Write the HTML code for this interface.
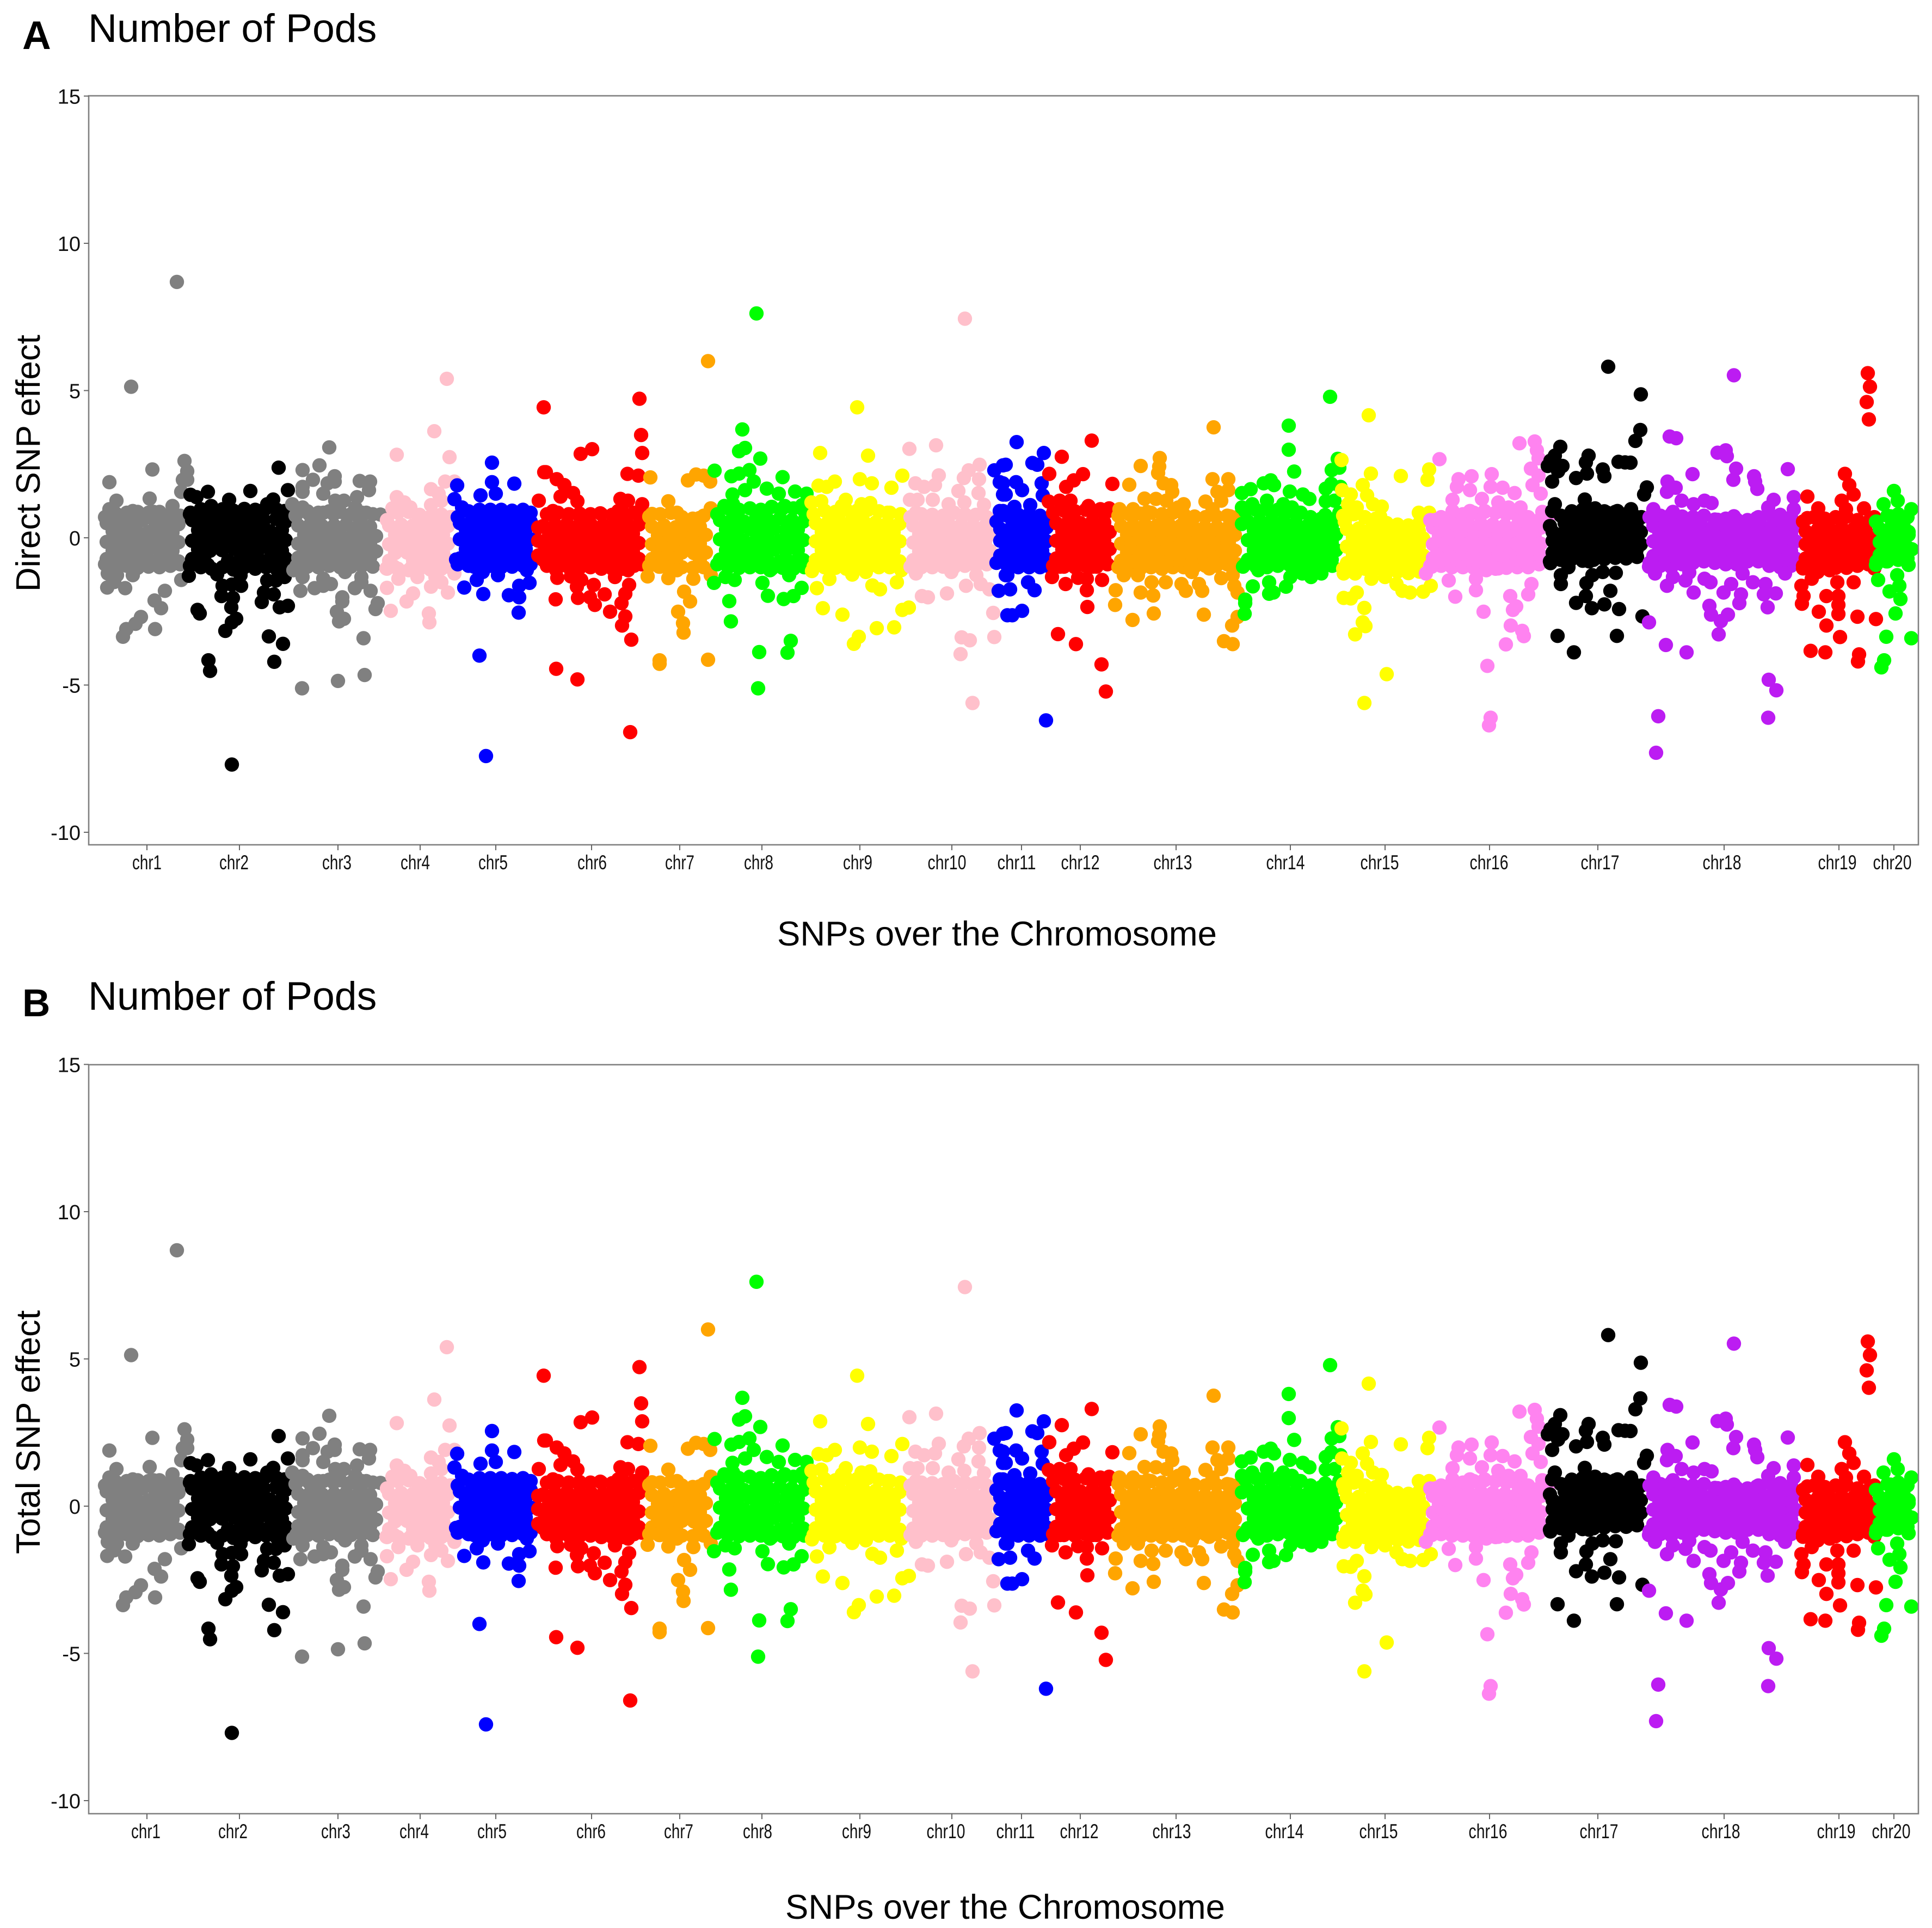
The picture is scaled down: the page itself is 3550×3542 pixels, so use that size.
<!DOCTYPE html>
<html lang="en">
<head>
<meta charset="utf-8">
<title>Number of Pods - SNP effects</title>
<style>
html,body{margin:0;padding:0;background:#fff;}
svg{display:block;font-family:"Liberation Sans",sans-serif;}
</style>
</head>
<body>
<svg id="chart" xmlns="http://www.w3.org/2000/svg" width="3550" height="3542" viewBox="0 0 3550 3542">
<rect x="0" y="0" width="3550" height="3542" fill="#fff"/>
<text x="41" y="90" font-size="73" font-weight="bold" fill="#000">A</text>
<text x="162" y="77" font-size="73.4" fill="#000">Number of Pods</text>
<text x="1832" y="1737" font-size="63" text-anchor="middle" textLength="808" lengthAdjust="spacingAndGlyphs" fill="#000">SNPs over the Chromosome</text>
<text transform="translate(73,851) rotate(-90)" font-size="62" text-anchor="middle" textLength="472" lengthAdjust="spacingAndGlyphs" fill="#000">Direct SNP effect</text>
<text x="41" y="1867" font-size="71" font-weight="bold" fill="#000">B</text>
<text x="162" y="1855" font-size="73.4" fill="#000">Number of Pods</text>
<text x="1847" y="3525" font-size="63" text-anchor="middle" textLength="808" lengthAdjust="spacingAndGlyphs" fill="#000">SNPs over the Chromosome</text>
<text transform="translate(73,2631) rotate(-90)" font-size="62" text-anchor="middle" textLength="448" lengthAdjust="spacingAndGlyphs" fill="#000">Total SNP effect</text>
</svg>
<script>
const chromosomes=['chr1','chr2','chr3','chr4','chr5','chr6','chr7','chr8','chr9','chr10','chr11','chr12','chr13','chr14','chr15','chr16','chr17','chr18','chr19','chr20'];
const chromosomeColors=['#808080','#000000','#808080','#FFC0CB','#0000FF','#FF0000','#FFA500','#00FF00','#FFFF00','#FFC0CB','#0000FF','#FF0000','#FFA500','#00FF00','#FFFF00','#FF83F0','#000000','#BC1CF2','#FF0000','#00FF00'];
const chromosomeTicks=[107,277,458,609,748,924,1086,1237,1417,1586,1714,1822,1998,2208,2382,2574,2773,3005,3216,3317];
const chromosomeLabelAt=[107,267,456,600,743,925,1086,1231,1413,1577,1705,1822,1992,2199,2372,2573,2777,3001,3213,3314];
const effectTicks=[15,10,5,0,-5,-10];

/* Scattered SNPs: [genome position, effect] */
const chr1Snps=[[162,8.69],[78,5.13],[176,2.61],[181,2.26],[173,1.97],[181,1.97],[170,1.56],[117,2.32],[38,1.89],[51,1.26],[112,1.33],[154,1.08],[38,.97],[81,.91],[119,.88],[35,-1.21],[81,-1.27],[34,-1.69],[67,-1.71],[170,-1.43],[140,-1.8],[121,-2.13],[133,-2.39],[96,-2.69],[86,-2.92],[69,-3.1],[63,-3.36],[122,-3.1],[47,-1.5],[52,-1.27]];
const chr2Snps=[[263,-7.7],[220,-4.16],[223,-4.52],[341,-4.21],[331,-3.35],[357,-3.6],[251,-3.16],[263,-2.87],[271,-2.75],[200,-2.45],[204,-2.57],[262,-2.36],[265,-2.04],[244,-1.98],[246,-1.63],[263,-1.59],[280,-1.63],[318,-2.18],[351,-2.36],[366,-2.31],[340,-1.92],[322,-1.86],[184,-1.29],[236,-1.24],[219,-.92],[279,-1.27],[328,-1.45],[344,-1.45],[360,-1.33],[349,2.38],[297,1.59],[219,1.56],[366,1.62],[187,1.46],[198,1.38],[258,1.29],[339,1.3],[328,1.14],[225,1.08],[206,.97],[271,.85],[187,.85],[246,.97],[312,.91],[293,.88],[360,.91]];
const chr3Snps=[[442,3.07],[424,2.46],[393,2.3],[452,2.09],[452,1.91],[412,1.97],[393,1.73],[393,1.56],[498,1.93],[517,1.91],[515,1.62],[439,1.85],[431,1.5],[493,1.38],[469,1.26],[453,1.26],[374,1.14],[393,1.03],[431,.85],[510,.85],[536,.79],[490,1.03],[380,.75],[405,.8],[420,.75],[450,.8],[475,.75],[500,.7],[376,-1.1],[393,-1.33],[431,-1.39],[445,-1.57],[431,-1.63],[415,-1.71],[389,-1.8],[471,-1.16],[501,-1.33],[501,-1.51],[489,-1.71],[518,-1.8],[466,-2.02],[466,-2.16],[531,-2.22],[527,-2.42],[456,-2.51],[469,-2.75],[460,-2.84],[505,-3.41],[507,-4.66],[458,-4.86],[392,-5.11]];
const chr4Snps=[[658,5.4],[635,3.62],[566,2.82],[663,2.74],[655,1.91],[672,1.91],[629,1.65],[643,1.5],[629,1.11],[648,1.26],[648,.79],[566,1.38],[580,1.2],[558,1.0],[591,1.03],[607,.67],[669,.7],[547,-1.04],[561,-.98],[594,-.98],[569,-1.39],[604,-1.33],[637,-.98],[637,-1.33],[672,-1.21],[629,-1.66],[648,-1.51],[660,-1.86],[548,-1.7],[596,-1.89],[584,-2.16],[555,-2.48],[625,-2.57],[626,-2.87]];
const chr5Snps=[[741,2.55],[677,1.78],[741,1.89],[782,1.84],[720,1.44],[748,1.5],[672,1.31],[686,1.03],[675,-.74],[708,-.98],[724,-1.16],[713,-1.43],[752,-1.27],[690,-1.69],[725,-1.91],[805,-1.1],[810,-1.53],[791,-1.63],[772,-1.95],[791,-2.02],[790,-2.54],[718,-4.0],[730,-7.41]];
const chr6Snps=[[836,4.43],[837,2.23],[827,1.26],[1012,4.72],[1015,3.49],[1017,2.88],[925,3.01],[904,2.85],[840,2.23],[860,1.99],[874,1.79],[890,1.52],[898,1.24],[867,1.4],[990,2.17],[1010,2.11],[977,1.32],[991,1.26],[1017,1.14],[940,.83],[902,.73],[853,.91],[973,.91],[859,-1.1],[861,-1.36],[886,-1.31],[905,-1.43],[897,-1.66],[928,-1.6],[948,-1.92],[899,-2.04],[921,-2.02],[930,-2.28],[858,-2.09],[958,-2.51],[993,-1.6],[986,-1.9],[979,-2.22],[986,-2.67],[980,-2.98],[997,-3.46],[859,-4.45],[898,-4.81],[995,-6.6],[967,-1.33],[991,-1.1]];
const chr7Snps=[[1138,6.0],[1032,2.05],[1101,1.95],[1116,2.15],[1130,2.11],[1142,1.91],[1065,1.24],[1081,.85],[1035,.81],[1143,1.0],[1122,.67],[1027,-1.31],[1065,-1.37],[1081,-1.1],[1111,-1.39],[1111,-1.04],[1143,-1.27],[1048,-.98],[1094,-1.83],[1105,-2.16],[1083,-2.51],[1092,-2.9],[1093,-3.22],[1049,-4.16],[1049,-4.28],[1138,-4.14]];
const chr8Snps=[[1227,7.62],[1201,3.68],[1206,3.05],[1195,2.94],[1234,2.69],[1150,2.28],[1181,2.09],[1195,2.18],[1214,2.3],[1275,2.06],[1222,1.91],[1246,1.67],[1298,1.57],[1319,1.5],[1183,1.47],[1206,1.62],[1268,1.5],[1279,1.08],[1311,1.11],[1168,1.08],[1184,1.14],[1176,-.98],[1170,-1.33],[1187,-1.43],[1149,-1.53],[1238,-1.53],[1252,-1.1],[1287,-1.27],[1310,-1.7],[1295,-1.98],[1277,-2.08],[1248,-1.97],[1177,-2.15],[1180,-2.84],[1290,-3.5],[1284,-3.9],[1232,-3.88],[1230,-5.11]];
const chr9Snps=[[1412,4.43],[1344,2.88],[1432,2.79],[1341,1.77],[1356,1.73],[1371,1.91],[1417,1.99],[1439,1.85],[1475,1.7],[1495,2.11],[1328,1.2],[1346,1.24],[1391,1.29],[1384,1.08],[1420,1.14],[1436,1.18],[1468,.85],[1368,.79],[1501,.67],[1329,-1.13],[1361,-1.4],[1338,-1.71],[1403,-1.25],[1428,-1.16],[1485,-1.51],[1493,-1.1],[1440,-1.62],[1454,-1.75],[1349,-2.39],[1385,-2.61],[1507,-2.37],[1495,-2.45],[1448,-3.07],[1480,-3.04],[1415,-3.36],[1406,-3.6]];
const chr10Snps=[[1610,7.44],[1508,3.02],[1557,3.14],[1637,2.48],[1617,2.29],[1608,2.03],[1636,1.99],[1562,2.12],[1555,1.79],[1519,1.85],[1535,1.73],[1598,1.59],[1635,1.52],[1509,1.29],[1523,1.29],[1551,1.29],[1580,1.14],[1645,1.12],[1609,1.2],[1520,.85],[1520,-1.21],[1585,-1.16],[1612,-.92],[1631,-1.27],[1639,-1.57],[1612,-1.63],[1655,-1.75],[1531,-1.98],[1542,-2.02],[1577,-1.89],[1662,-2.55],[1664,-3.37],[1604,-3.38],[1619,-3.48],[1602,-3.95],[1624,-5.61]];
const chr11Snps=[[1664,2.29],[1680,2.46],[1674,1.89],[1680,1.47],[1674,.91],[1672,-1.8],[1685,-1.27],[1688,-2.63],[1705,3.25],[1755,2.88],[1685,2.48],[1734,2.54],[1743,2.48],[1704,1.89],[1680,1.85],[1751,1.85],[1715,1.62],[1685,1.47],[1753,1.44],[1701,1.05],[1730,1.11],[1680,.91],[1712,.67],[1688,-1.27],[1726,-1.51],[1693,-1.75],[1738,-1.78],[1715,-2.48],[1697,-2.63],[1759,-6.2]];
const chr12Snps=[[1843,3.3],[1788,2.75],[1765,2.17],[1827,2.16],[1810,1.95],[1796,1.73],[1881,1.83],[1764,1.23],[1784,1.26],[1837,1.08],[1859,.97],[1875,1.0],[1804,1.26],[1807,.85],[1770,-1.33],[1795,-1.57],[1818,-1.36],[1834,-1.39],[1834,-1.78],[1862,-1.43],[1835,-2.35],[1781,-3.27],[1814,-3.61],[1861,-4.3],[1869,-5.22],[1785,-.98],[1845,-.98]];
const chr13Snps=[[2067,3.75],[1968,2.71],[1933,2.44],[1967,2.42],[1965,2.2],[1912,1.8],[1975,1.85],[1989,1.79],[2065,1.99],[2094,1.99],[1991,1.56],[1940,1.33],[1961,1.32],[1980,1.26],[2012,1.14],[2074,1.56],[2094,1.62],[2052,1.23],[2081,1.26],[2065,.97],[1894,.97],[1919,.97],[1945,.88],[2002,1.03],[2024,.61],[2097,.73],[1902,-1.27],[1928,-1.27],[1953,-1.51],[1979,-1.51],[2027,-1.16],[2059,-1.04],[1887,-1.78],[2008,-1.57],[2040,-1.57],[2046,-1.8],[2016,-1.8],[1933,-1.86],[1956,-1.96],[2081,-1.37],[2102,-1.27],[2105,-1.63],[2111,-1.86],[1886,-2.28],[1957,-2.57],[1918,-2.79],[2049,-2.61],[2111,-2.69],[2101,-2.98],[2086,-3.51],[2102,-3.61]];
const chr14Snps=[[2281,4.79],[2205,3.81],[2205,2.99],[2215,2.25],[2295,2.68],[2298,2.38],[2284,2.3],[2283,1.83],[2273,1.67],[2300,1.73],[2172,1.95],[2178,1.79],[2159,1.85],[2135,1.65],[2119,1.52],[2207,1.57],[2231,1.47],[2243,1.32],[2273,1.24],[2289,1.26],[2165,1.26],[2195,1.14],[2119,1.03],[2138,1.14],[2298,.85],[2272,.77],[2211,1.03],[2227,.85],[2119,.47],[2121,-.98],[2149,-1.1],[2211,-.92],[2230,-1.21],[2246,-1.33],[2265,-1.21],[2208,-1.33],[2139,-1.65],[2169,-1.51],[2169,-1.9],[2177,-1.86],[2200,-1.66],[2125,-2.1],[2125,-2.22],[2124,-2.58]];
const chr15Snps=[[2352,4.16],[2302,2.64],[2356,2.18],[2411,2.1],[2463,2.32],[2460,1.97],[2341,1.79],[2349,1.44],[2303,1.62],[2319,1.47],[2376,1.06],[2360,1.14],[2330,1.03],[2444,.85],[2463,.85],[2373,.73],[2314,1.14],[2308,.55],[2306,-1.21],[2327,-1.21],[2357,-1.39],[2382,-1.33],[2403,-1.57],[2414,-1.8],[2428,-1.86],[2452,-1.83],[2466,-1.63],[2330,-1.86],[2306,-2.04],[2319,-2.06],[2344,-2.38],[2341,-2.87],[2346,-3.0],[2327,-3.28],[2385,-4.63],[2344,-5.61]];
const chr16Snps=[[2482,2.67],[2517,1.99],[2514,1.73],[2506,1.29],[2506,.91],[2476,.61],[2468,-.98],[2457,-1.21],[2499,-1.45],[2511,-2.0],[2629,3.21],[2657,3.27],[2661,2.97],[2664,2.7],[2650,2.35],[2664,2.11],[2653,1.79],[2668,1.5],[2541,2.09],[2578,2.16],[2576,1.73],[2598,1.7],[2538,1.62],[2620,1.52],[2560,1.32],[2590,1.2],[2631,1.03],[2609,1.03],[2671,.88],[2637,.61],[2565,.91],[2538,.91],[2681,.61],[2568,-1.1],[2590,-1.04],[2549,-1.39],[2549,-1.78],[2642,-.86],[2672,-.8],[2651,-1.57],[2645,-1.92],[2612,-1.98],[2623,-2.33],[2617,-2.45],[2563,-2.51],[2613,-2.98],[2634,-3.16],[2637,-3.34],[2604,-3.62],[2570,-4.35],[2576,-6.11],[2573,-6.37]];
const chr17Snps=[[2792,5.81],[2852,4.87],[2851,3.66],[2842,3.29],[2704,3.09],[2694,2.79],[2686,2.62],[2681,2.44],[2756,2.79],[2751,2.56],[2708,2.44],[2700,2.26],[2782,2.32],[2785,2.09],[2753,2.18],[2733,2.03],[2689,1.91],[2811,2.58],[2823,2.56],[2833,2.55],[2863,1.71],[2858,1.47],[2694,1.14],[2689,.91],[2749,1.3],[2834,.97],[2853,.7],[2716,.73],[2809,.91],[2768,1.0],[2790,.85],[2719,-1.0],[2705,-1.27],[2705,-1.57],[2763,-1.27],[2782,-1.16],[2806,-1.19],[2752,-1.54],[2751,-1.98],[2733,-2.21],[2762,-2.39],[2785,-2.26],[2796,-1.8],[2812,-2.42],[2855,-2.67],[2699,-3.33],[2808,-3.33],[2729,-3.89],[2757,-.8],[2686,-.86],[2842,-.62]];
const chr18Snps=[[3023,5.52],[2905,3.44],[2917,3.38],[2993,2.89],[3008,2.97],[3010,2.77],[2947,2.16],[3027,2.35],[3022,1.97],[3060,2.09],[3062,1.91],[3066,1.66],[3122,2.33],[2901,1.91],[2916,1.7],[2900,1.56],[2927,1.26],[2969,1.26],[2982,1.18],[3096,1.29],[3133,1.38],[3133,.97],[2875,.97],[2911,.88],[2949,1.14],[3023,.73],[3086,1.03],[2993,.61],[3065,.67],[2867,-.98],[2878,-1.21],[2900,-1.63],[2911,-1.33],[2934,-1.45],[2941,-1.18],[2949,-1.86],[2969,-1.39],[2980,-1.51],[3004,-1.86],[3018,-1.57],[3039,-1.21],[3036,-1.92],[3033,-2.22],[3058,-1.51],[3081,-1.57],[3078,-1.92],[3100,-1.89],[3085,-2.36],[3117,-1.21],[2978,-2.31],[2981,-2.61],[3012,-2.61],[2999,-2.83],[2995,-3.28],[2867,-2.87],[2898,-3.64],[2936,-3.89],[3087,-4.82],[3101,-5.18],[3086,-6.11],[2884,-6.06],[2880,-7.3]];
const chr19Snps=[[3269,5.59],[3273,5.13],[3267,4.61],[3271,4.02],[3227,2.17],[3235,1.79],[3243,1.47],[3221,1.26],[3158,1.4],[3178,1.0],[3262,1.0],[3281,.7],[3229,.97],[3158,.67],[3191,.61],[3150,-1.04],[3177,-1.16],[3166,-1.39],[3147,-1.63],[3199,-1.1],[3213,-1.51],[3243,-1.51],[3151,-1.98],[3148,-2.24],[3193,-1.98],[3215,-1.98],[3215,-2.28],[3215,-2.59],[3179,-2.51],[3193,-2.98],[3218,-3.37],[3250,-2.68],[3284,-2.76],[3164,-3.84],[3191,-3.89],[3253,-3.96],[3251,-4.2],[3281,-1.04]];
const chr20Snps=[[3317,1.59],[3324,1.26],[3298,1.14],[3349,.97],[3311,.73],[3284,.55],[3336,.61],[3344,.2],[3350,-.39],[3344,-.92],[3284,-.92],[3303,-.8],[3288,-1.43],[3323,-1.27],[3327,-1.63],[3309,-1.82],[3329,-2.08],[3320,-2.57],[3303,-3.36],[3349,-3.41],[3299,-4.16],[3294,-4.4]];

/* Dense core SNPs, one entry per position: [genome position, effect, effect, ...] */
const chr1Core=[[30,.7,-.9],[50,.82,-1],[70,.85,-.95],[90,.88,-1.02],[110,.85,-.98],[130,.88,-1],[150,.8,-.95],[168,.75,-.9],[33,.5,-.14,-.72],[44,.22,-.44],[55,.56,-.1,-.76],[66,.2,-.42],[77,.58,-.13,-.78],[88,.24,-.46],[99,.6,-.08,-.72],[110,.2,-.4],[121,.58,-.12,-.8],[132,.22,-.46],[143,.5,-.1,-.74],[154,.18,-.44],[165,.46,-.15,-.8]];
const chr2Core=[[186,.8,-.95],[206,.95,-1],[226,.9,-1.05],[246,.95,-1],[266,.92,-1.08],[286,.98,-1],[306,.95,-1.05],[326,1,-1],[346,.95,-1.08],[364,.9,-1],[190,.6,-.1,-.72],[201,.26,-.4],[212,.62,-.06,-.68],[223,.24,-.44],[234,.58,-.1],[245,.22,-.42],[256,.6,-.05,-.78],[267,.28,-.38],[278,.56,-.08,-.74],[289,.24,-.46],[300,.62,-.1,-.7],[311,.26,-.42],[322,.6,-.06,-.8],[333,.22,-.4],[344,.64,-.1,-.72],[355,.26,-.44],[362,.55,-.08,-.7]];
const chr3Core=[[382,.8,-.95],[402,.9,-.98],[422,.85,-1],[442,.9,-.95],[462,.88,-1],[482,.8,-.98],[502,.85,-.95],[522,.8,-.98],[385,.42,-.2,-.68],[396,.1,-.5],[407,.45,-.18,-.72],[418,.12,-.48],[429,.4,-.22,-.7],[440,.08,-.5],[451,.42,-.2,-.66],[462,.1,-.46],[473,.45,-.18,-.7],[484,.06,-.5],[495,.4,-.22,-.72],[506,.1,-.48],[517,.38,-.2,-.68],[528,.06,-.46]];
const chr4Core=[[548,.6,-1.05],[568,.85,-1.05],[588,.88,-1.1],[608,.78,-1.05],[628,.72,-1.08],[648,.75,-1.05],[664,.7,-1],[552,.42,-.22,-.78],[563,.1,-.52],[574,.45,-.2],[585,.12,-.5],[596,.42,-.24,-.76],[607,.08,-.55],[618,.4,-.2,-.78],[629,.1,-.5],[640,.42,-.22,-.74],[651,.1,-.5],[660,.4,-.2,-.76]];
const chr5Core=[[678,.7,-.9],[698,.9,-.95],[718,.95,-.98],[738,.95,-.95],[758,.95,-1],[778,.92,-.98],[798,.95,-.95],[812,.85,-.9],[682,.5,-.05,-.7],[693,.28,-.38],[704,.62,-.05,-.72],[715,.3,-.4],[726,.64,-.03,-.7],[737,.28,-.38],[748,.66,-.06,-.74],[759,.3,-.4],[770,.62,-.04,-.7],[781,.28,-.42],[792,.64,-.05,-.72],[803,.3,-.38],[812,.55,-.05,-.68]];
const chr6Core=[[826,.35,-.1,-.6],[842,.8,-.95],[862,.85,-1],[882,.8,-1],[902,.82,-1.02],[922,.8,-1],[942,.8,-1.05],[962,.78,-1.05],[982,.85,-1.05],[1002,.85,-.95],[1016,.75,-.9],[835,.4,-.18,-.75],[846,.12,-.5],[857,.45,-.2,-.78],[868,.1,-.52],[879,.48,-.18,-.8],[890,.14,-.5],[901,.42,-.2,-.76],[912,.1,-.52],[923,.45,-.22,-.8],[934,.12,-.5],[945,.42,-.2,-.78],[956,.14,-.55],[967,.48,-.18,-.82],[978,.15,-.5],[989,.5,-.2,-.74],[1000,.14,-.48],[1011,.45,-.18,-.72]];
const chr7Core=[[1030,.72,-.95],[1050,.8,-.98],[1070,.85,-1],[1090,.7,-1],[1110,.65,-1.02],[1130,.75,-1],[1035,.38,-.22,-.72],[1046,.08,-.5],[1057,.42,-.2,-.7],[1068,.1,-.52],[1079,.36,-.24,-.74],[1090,.06,-.5],[1101,.34,-.22],[1112,.08,-.52],[1123,.38,-.2,-.72],[1134,.1,-.5]];
const chr8Core=[[1155,.8,-.9],[1175,1,-1],[1195,.95,-1.02],[1215,1,-1],[1235,.95,-1],[1255,1.05,-1.05],[1275,1,-1.02],[1295,1,-1.05],[1315,.9,-1],[1160,.6,-.05,-.74],[1171,.28,-.42],[1182,.62,-.08,-.78],[1193,.25,-.4],[1204,.55,-.1,-.75],[1215,.3,-.45],[1226,.65,-.08,-.72],[1237,.28,-.42],[1248,.62,-.05,-.78],[1259,.3,-.4],[1270,.66,-.1,-.8],[1281,.26,-.44],[1292,.6,-.06,-.82],[1303,.28,-.42],[1313,.55,-.08,-.76]];
const chr9Core=[[1332,.8,-.98],[1352,.92,-1],[1372,.88,-1.02],[1392,.95,-1.05],[1412,.92,-1.02],[1432,.95,-1],[1452,.9,-1],[1472,.85,-1],[1492,.8,-1],[1336,.5,-.12,-.75],[1347,.2,-.42],[1358,.52,-.1,-.78],[1369,.18,-.44],[1380,.55,-.14,-.75],[1391,.22,-.42],[1402,.58,-.1,-.8],[1413,.2,-.46],[1424,.55,-.12,-.76],[1435,.22,-.44],[1446,.52,-.1,-.78],[1457,.18,-.42],[1468,.5,-.14,-.75],[1479,.2,-.44],[1490,.48,-.12,-.8]];
const chr10Core=[[1510,.7,-.98],[1530,.8,-1],[1550,.78,-1],[1570,.75,-.98],[1590,.85,-1],[1610,.8,-.95],[1630,.78,-.95],[1650,.7,-.9],[1515,.42,-.16,-.76],[1526,.12,-.46],[1537,.45,-.18,-.78],[1548,.14,-.48],[1559,.42,-.15,-.8],[1570,.12,-.46],[1581,.45,-.18,-.75],[1592,.15,-.48],[1603,.44,-.16,-.72],[1614,.12,-.46],[1625,.42,-.18,-.7],[1636,.14,-.45],[1647,.4,-.15,-.68],[1656,.1,-.44]];
const chr11Core=[[1668,.55,-.85],[1688,.75,-.95],[1708,.78,-1],[1728,.8,-1],[1748,.75,-1],[1762,.6,-.95],[1675,.3,-.1,-.6],[1686,.1,-.38],[1697,.42,-.14,-.72],[1708,.16,-.42],[1719,.45,-.12,-.78],[1730,.18,-.46],[1741,.42,-.14,-.8],[1752,.15,-.44],[1760,.35,-.12,-.72]];
const chr12Core=[[1772,.85,-.95],[1792,.92,-.98],[1812,.9,-1],[1832,.95,-.95],[1852,.9,-.98],[1872,.9,-.9],[1778,.5,-.1,-.7],[1789,.22,-.4],[1800,.55,-.08,-.72],[1811,.2,-.42],[1822,.5,-.1,-.76],[1833,.24,-.4],[1844,.55,-.08,-.7],[1855,.2,-.42],[1866,.52,-.1,-.68],[1876,.2,-.38]];
const chr13Core=[[1892,.75,-1],[1912,.8,-1.02],[1932,.82,-1.05],[1952,.85,-1],[1972,.8,-1.05],[1992,.85,-1],[2012,.8,-1],[2032,.72,-.98],[2052,.7,-.95],[2072,.72,-.95],[2092,.75,-.9],[2110,.7,-.9],[1897,.4,-.2,-.78],[1908,.1,-.5],[1919,.42,-.2,-.8],[1930,.12,-.5],[1941,.45,-.18,-.78],[1952,.1,-.52],[1963,.42,-.2,-.76],[1974,.14,-.5],[1985,.45,-.2,-.78],[1996,.12,-.52],[2007,.42,-.18,-.74],[2018,.1,-.48],[2029,.38,-.2,-.72],[2040,.08,-.48],[2051,.36,-.18,-.7],[2062,.08,-.46],[2073,.36,-.2,-.68],[2084,.1,-.46],[2095,.38,-.18,-.64],[2106,.1,-.44]];
const chr14Core=[[2125,.9,-.9],[2145,.95,-.98],[2165,.98,-1],[2185,.95,-.95],[2205,.9,-.9],[2225,.85,-1],[2245,.7,-1.05],[2265,.65,-1.05],[2285,.62,-.95],[2130,.55,-.08,-.75],[2141,.25,-.42],[2152,.58,-.1,-.78],[2163,.25,-.44],[2174,.6,-.08,-.76],[2185,.26,-.42],[2196,.55,-.1,-.72],[2207,.22,-.44],[2218,.5,-.1,-.74],[2229,.2,-.42],[2240,.42,-.12,-.7],[2251,.15,-.42],[2262,.38,-.14,-.72],[2273,.12,-.44],[2284,.4,-.15,-.74],[2292,.12,-.42]];
const chr15Core=[[2305,.75,-1.05],[2325,.8,-1.1],[2345,.7,-1.05],[2365,.65,-1.05],[2385,.5,-1.1],[2405,.45,-1.15],[2425,.42,-1.2],[2445,.5,-1.15],[2312,.3,-.3,-.86],[2323,0,-.58],[2334,.32,-.28,-.88],[2345,.02,-.6],[2356,.3,-.3,-.84],[2367,0,-.6],[2378,.28,-.32,-.88],[2389,-.02,-.6],[2400,.25,-.3,-.9],[2411,-.02,-.62],[2422,.22,-.32,-.92],[2433,-.04,-.62],[2444,.22,-.3,-.9],[2452,-.02,-.6]];
const chr16Core=[[2465,.6,-.95],[2485,.7,-.95],[2505,.75,-1],[2525,.8,-1],[2545,.85,-1.02],[2565,.88,-1.05],[2585,.85,-1.05],[2605,.8,-1.02],[2625,.75,-1],[2645,.7,-1],[2665,.6,-.9],[2470,.35,-.22,-.68],[2481,.08,-.48],[2492,.4,-.2,-.7],[2503,.1,-.5],[2514,.42,-.22,-.72],[2525,.12,-.5],[2536,.45,-.2,-.74],[2547,.14,-.48],[2558,.48,-.22,-.78],[2569,.12,-.5],[2580,.45,-.2,-.8],[2591,.14,-.5],[2602,.42,-.22,-.78],[2613,.12,-.48],[2624,.4,-.2,-.74],[2635,.1,-.48],[2646,.38,-.22,-.72],[2657,.08,-.46],[2668,.34,-.2,-.6]];
const chr17Core=[[2685,.4,-.8],[2705,.75,-.75],[2725,.9,-.72],[2745,.95,-.78],[2765,.95,-.75],[2785,.9,-.72],[2805,.88,-.68],[2825,.8,-.7],[2845,.7,-.65],[2690,.2,-.1,-.5],[2701,.1,-.3],[2712,.5,0,-.52],[2723,.25,-.25],[2734,.6,.02,-.52],[2745,.3,-.28],[2756,.65,.05,-.5],[2767,.32,-.25],[2778,.6,.02,-.55],[2789,.3,-.28],[2800,.58,.02,-.5],[2811,.28,-.26],[2822,.55,.03,-.46],[2833,.25,-.24],[2844,.45,0,-.42],[2852,.2,-.22]];
const chr18Core=[[2868,.7,-.85],[2888,.75,-.95],[2908,.8,-1],[2928,.72,-.9],[2948,.7,-.85],[2968,.75,-.8],[2988,.62,-.85],[3008,.65,-.9],[3028,.62,-.9],[3048,.6,-.8],[3068,.7,-.8],[3088,.8,-.95],[3108,.78,-1],[3128,.7,-.95],[2875,.4,-.12,-.62],[2886,.12,-.4],[2897,.45,-.15,-.68],[2908,.15,-.42],[2919,.42,-.12,-.7],[2930,.12,-.42],[2941,.4,-.14,-.65],[2952,.14,-.4],[2963,.42,-.1,-.62],[2974,.15,-.38],[2985,.38,-.12,-.66],[2996,.12,-.4],[3007,.4,-.12,-.72],[3018,.12,-.42],[3029,.35,-.1,-.68],[3040,.1,-.38],[3051,.38,-.12,-.6],[3062,.12,-.36],[3073,.42,-.1,-.62],[3084,.15,-.38],[3095,.45,-.12,-.72],[3106,.15,-.42],[3117,.42,-.12,-.74],[3128,.14,-.44],[3136,.4,-.12,-.7]];
const chr19Core=[[3150,.55,-.95],[3170,.7,-1],[3190,.65,-1],[3210,.7,-1.02],[3230,.72,-1.02],[3250,.6,-.95],[3270,.55,-.9],[3155,.22,-.22,-.7],[3166,-.02,-.48],[3177,.28,-.24,-.74],[3188,.02,-.5],[3199,.3,-.22,-.74],[3210,.02,-.48],[3221,.35,-.25,-.76],[3232,.05,-.5],[3243,.3,-.22,-.72],[3254,.02,-.48],[3265,.25,-.22,-.68],[3273,0,-.44]];
const chr20Core=[[3285,.55,-.8],[3305,.75,-.8],[3325,.8,-.75],[3342,.7,-.7],[3291,.3,-.15,-.58],[3302,.08,-.38],[3313,.42,-.15,-.6],[3324,.15,-.38],[3335,.38,-.12,-.55],[3344,.1,-.35]];

const scattered=[chr1Snps,chr2Snps,chr3Snps,chr4Snps,chr5Snps,chr6Snps,chr7Snps,chr8Snps,chr9Snps,chr10Snps,chr11Snps,chr12Snps,chr13Snps,chr14Snps,chr15Snps,chr16Snps,chr17Snps,chr18Snps,chr19Snps,chr20Snps];
const cores=[chr1Core,chr2Core,chr3Core,chr4Core,chr5Core,chr6Core,chr7Core,chr8Core,chr9Core,chr10Core,chr11Core,chr12Core,chr13Core,chr14Core,chr15Core,chr16Core,chr17Core,chr18Core,chr19Core,chr20Core];

const svg=document.getElementById('chart');
const NS='http://www.w3.org/2000/svg';
const plotLeft=163,plotRight=3525,positionMax=3362;
function xScale(p){return plotLeft+(p/positionMax)*(plotRight-plotLeft);}
function makeYScale(zeroY){return function(v){return zeroY-54.1*v;};}

function drawPanel(prefix,top,bottom,zeroY,labelShift){
  const yScale=makeYScale(zeroY);
  const group=document.createElementNS(NS,'g');
  
  
  svg.appendChild(group);

  chromosomes.forEach(function(name,i){
    const color=chromosomeColors[i];
    const series=document.createElementNS(NS,'g');
    
    
    series.setAttribute('fill',color);
    function dot(p,v){
      const c=document.createElementNS(NS,'circle');
      
      
      c.setAttribute('cx',xScale(p).toFixed(1));
      c.setAttribute('cy',yScale(v).toFixed(1));
      c.setAttribute('r','13.2');
      series.appendChild(c);
    }
    cores[i].forEach(function(col){
      for(let k=1;k<col.length;k++){dot(col[0],col[k]);}
    });
    scattered[i].forEach(function(pt){dot(pt[0],pt[1]);});
    group.appendChild(series);
  });

  const frame=document.createElementNS(NS,'rect');
  
  
  frame.setAttribute('x',plotLeft);
  frame.setAttribute('y',top);
  frame.setAttribute('width',plotRight-plotLeft);
  frame.setAttribute('height',bottom-top);
  frame.setAttribute('fill','none');
  frame.setAttribute('stroke','#808080');
  frame.setAttribute('stroke-width','2.6');
  svg.appendChild(frame);

  effectTicks.forEach(function(v){
    const y=yScale(v);
    const t=document.createElementNS(NS,'line');
    
    
    t.setAttribute('x1',154);
    t.setAttribute('x2',plotLeft);
    t.setAttribute('y1',y);
    t.setAttribute('y2',y);
    t.setAttribute('stroke','#666');
    t.setAttribute('stroke-width','2');
    svg.appendChild(t);
    const l=document.createElementNS(NS,'text');
    
    
    l.setAttribute('x',148);
    l.setAttribute('y',y+14);
    l.setAttribute('font-size','38');
    l.setAttribute('text-anchor','end');
    l.setAttribute('fill','#111');
    l.textContent=String(v);
    svg.appendChild(l);
  });

  chromosomes.forEach(function(name,i){
    const x=xScale(chromosomeTicks[i]);
    const t=document.createElementNS(NS,'line');
    
    
    t.setAttribute('x1',x);
    t.setAttribute('x2',x);
    t.setAttribute('y1',bottom);
    t.setAttribute('y2',bottom+10);
    t.setAttribute('stroke','#666');
    t.setAttribute('stroke-width','2');
    svg.appendChild(t);
    const l=document.createElementNS(NS,'text');
    
    
    l.setAttribute('x',xScale(chromosomeLabelAt[i])+labelShift);
    l.setAttribute('y',bottom+45);
    l.setAttribute('font-size','37');
    l.setAttribute('text-anchor','middle');
    l.setAttribute('textLength',name.length>4?71:54);
    l.setAttribute('lengthAdjust','spacingAndGlyphs');
    l.setAttribute('fill','#111');
    l.textContent=name;
    svg.appendChild(l);
  });
}

drawPanel('panel-a',176,1552,988,0);
drawPanel('panel-b',1956,3332,2767,-2);
</script>
</body>
</html>
